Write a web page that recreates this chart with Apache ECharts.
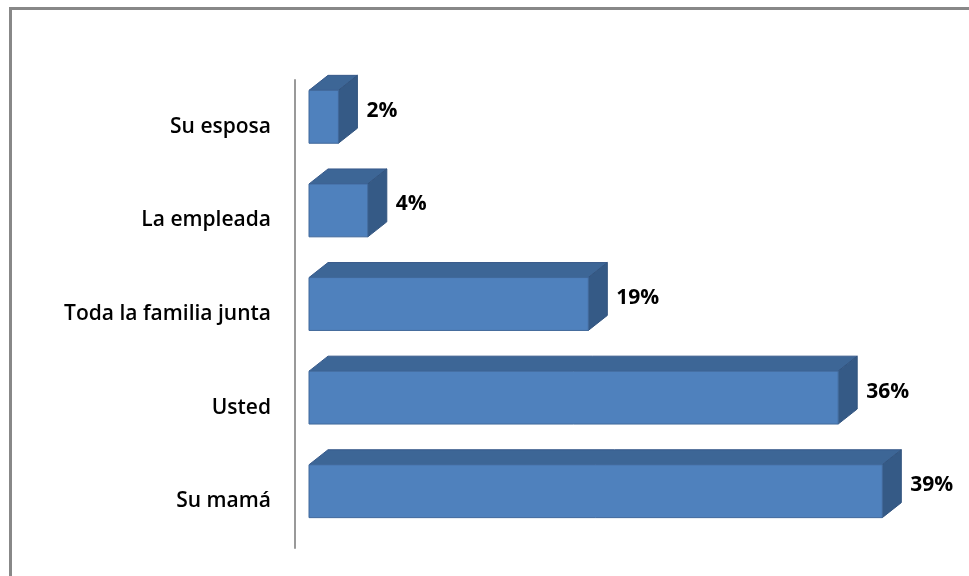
<!DOCTYPE html>
<html>
<head>
<meta charset="utf-8">
<script src="https://cdn.jsdelivr.net/npm/echarts@6/dist/echarts.min.js"></script>
<style>
  html, body { margin: 0; padding: 0; background: #fff; }
  #frame { position: absolute; left: 9px; top: 7px; width: 960px; height: 569px;
           border-top: 3px solid #888; border-left: 3px solid #888; box-sizing: border-box; }
  #chart { width: 969px; height: 576px; }
</style>
</head>
<body>
<div id="frame"></div>
<div id="chart"></div>
<script>
const categories = ['Su esposa', 'La empleada', 'Toda la familia junta', 'Usted', 'Su mamá']
const values = [2, 4, 19, 36, 39]

// 3D look: depth of the box and how far the front face sits from the axis
const DEPTH_X = 19
const DEPTH_Y = 15
const FRONT_X = 14
const FRONT_Y = -10

const chart = echarts.init(document.getElementById('chart'))

const renderBar = (params, api) => {
  const v = api.value(0)
  const cat = api.value(1)
  const p0 = api.coord([0, cat])
  const p1 = api.coord([v, cat])
  const h = api.size([0, 1])[1] * 0.565
  const x0 = p0[0] + FRONT_X
  const x1 = p1[0] + FRONT_X
  const yc = p0[1] + FRONT_Y
  const yt = yc - h / 2
  const yb = yc + h / 2
  return {
    type: 'group',
    children: [
      {
        type: 'polygon',
        shape: { points: [[x0, yt], [x1, yt], [x1 + DEPTH_X, yt - DEPTH_Y], [x0 + DEPTH_X, yt - DEPTH_Y]] },
        style: { fill: '#3d6696', stroke: '#37598a', lineWidth: 1 }
      },
      {
        type: 'polygon',
        shape: { points: [[x1, yt], [x1 + DEPTH_X, yt - DEPTH_Y], [x1 + DEPTH_X, yb - DEPTH_Y], [x1, yb]] },
        style: { fill: '#355a86', stroke: '#32547f', lineWidth: 1 }
      },
      {
        type: 'rect',
        shape: { x: x0, y: yt, width: x1 - x0, height: h },
        style: { fill: '#4f81bd', stroke: '#41699b', lineWidth: 1 }
      },
      {
        type: 'text',
        style: {
          x: x1 + DEPTH_X + 9,
          y: yc - 6,
          text: v + '%',
          fill: '#000',
          font: 'bold 21px "Open Sans", sans-serif',
          verticalAlign: 'middle',
          align: 'left'
        }
      }
    ]
  }
}

chart.setOption({
  animation: false,
  backgroundColor: 'transparent',
  grid: { left: 295, top: 80, width: 588, height: 468 },
  xAxis: {
    type: 'value',
    min: 0,
    max: 40,
    show: false
  },
  yAxis: {
    type: 'category',
    data: categories,
    inverse: true,
    axisLine: { show: true, lineStyle: { color: '#999', width: 2 } },
    axisTick: { show: false },
    axisLabel: {
      color: '#000',
      fontSize: 21,
      fontFamily: '"Open Sans", sans-serif',
      fontWeight: 600,
      margin: 24
    },
    splitLine: { show: false }
  },
  series: [
    {
      type: 'custom',
      renderItem: renderBar,
      encode: { x: 0, y: 1 },
      data: values.map((v, i) => [v, i])
    }
  ]
})
</script>
</body>
</html>
